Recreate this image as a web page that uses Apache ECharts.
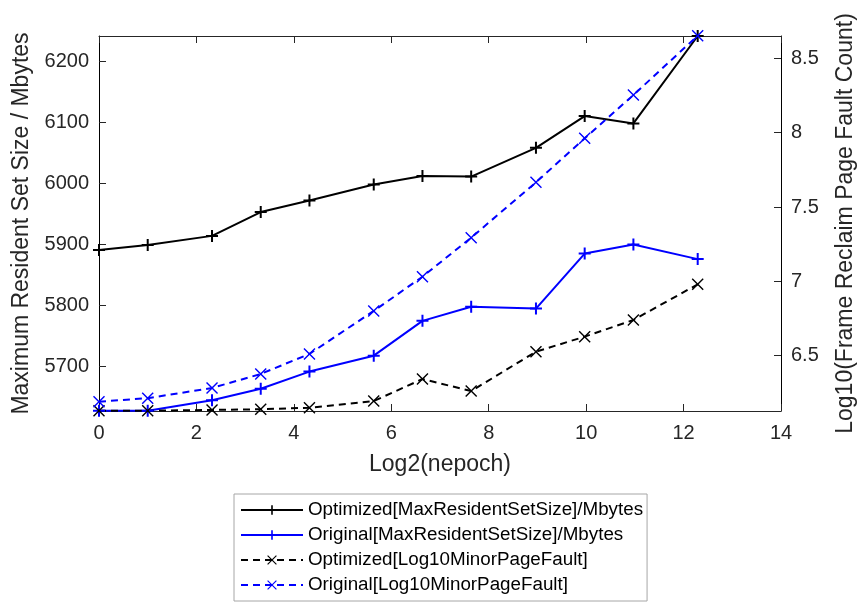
<!DOCTYPE html>
<html>
<head>
<meta charset="utf-8">
<script src="https://cdn.jsdelivr.net/npm/echarts@6/dist/echarts.min.js"></script>
<style>
html, body { margin: 0; padding: 0; background: #fff; }
#chart { width: 865px; height: 604px; }
</style>
</head>
<body>
<div id="chart"></div>
<script>
// log2(nepoch) positions
var xLog2 = [0, 1, 2.32, 3.32, 4.32, 5.64, 6.64, 7.64, 8.97, 9.97, 10.97, 12.29];

// left axis, Mbytes
var optMaxRss  = [5891, 5899, 5914, 5953, 5972, 5998, 6012, 6011, 6058, 6110, 6098, 6241];
var origMaxRss = [5628, 5628, 5645, 5664, 5692, 5718, 5775, 5798, 5795, 5885, 5900, 5876];

// right axis, log10 fault count
var optLog10Fault  = [6.130, 6.130, 6.135, 6.140, 6.150, 6.195, 6.343, 6.262, 6.527, 6.628, 6.740, 6.980];
var origLog10Fault = [6.191, 6.214, 6.283, 6.377, 6.512, 6.801, 7.031, 7.294, 7.666, 7.962, 8.253, 8.652];

var leftTicks  = [5700, 5800, 5900, 6000, 6100, 6200];
var rightTicks = [6.5, 7, 7.5, 8, 8.5];

var seriesNames = [
	'Optimized[MaxResidentSetSize]/Mbytes',
	'Original[MaxResidentSetSize]/Mbytes',
	'Optimized[Log10MinorPageFault]',
	'Original[Log10MinorPageFault]'
];

var FONT = 'Liberation Sans, Arial, sans-serif';
var PLUS = 'path://M-1,-6L1,-6L1,-1L6,-1L6,1L1,1L1,6L-1,6L-1,1L-6,1L-6,-1L-1,-1Z';
var CROSS = 'path://M-6,-5L-5,-6L0,-1L5,-6L6,-5L1,0L6,5L5,6L0,1L-5,6L-6,5L-1,0Z';

function pairs(xs, ys) {
	var out = [];
	for (var i = 0; i < xs.length; i++) {
		out.push([xs[i], ys[i]]);
	}
	return out;
}

function makeSeries(name, data, yIdx, color, dashed, symbol) {
	return {
		name: name,
		type: 'line',
		yAxisIndex: yIdx,
		data: data,
		symbol: symbol,
		symbolSize: 12,
		showAllSymbol: true,
		clip: false,
		lineStyle: { color: color, width: 2, type: dashed ? [7, 5] : 'solid' },
		itemStyle: { color: color },
		emphasis: { disabled: true }
	};
}

var chart = echarts.init(document.getElementById('chart'));

var nameText = { color: '#262626', fontSize: 23, fontFamily: FONT };

var option = {
	animation: false,
	backgroundColor: '#fff',
	grid: { left: 99, right: 77, top: 36, bottom: 193 },
	legend: {
		orient: 'vertical',
		left: 234,
		top: 494,
		padding: [6, 4, 6, 6],
		itemWidth: 62,
		itemHeight: 12,
		itemGap: 5,
		borderColor: '#a6a6a6',
		borderWidth: 1,
		textStyle: { color: '#000', fontSize: 18.8, lineHeight: 20, fontFamily: FONT },
		data: seriesNames
	},
	xAxis: [{
		type: 'value',
		position: 'bottom',
		min: 0, max: 14, interval: 2,
		name: 'Log2(nepoch)',
		nameLocation: 'middle',
		nameGap: 42,
		nameTextStyle: nameText,
		axisLine: { onZero: false, lineStyle: { color: '#262626', width: 1 } },
		axisTick: { inside: true, length: 7, lineStyle: { color: '#262626' } },
		axisLabel: { margin: 12, color: '#262626', fontSize: 20, fontFamily: FONT },
		splitLine: { show: false }
	}, {
		type: 'value',
		position: 'top',
		min: 0, max: 14, interval: 2,
		axisLine: { onZero: false, lineStyle: { color: '#262626', width: 1 } },
		axisTick: { inside: true, length: 7, lineStyle: { color: '#262626' } },
		axisLabel: { show: false },
		splitLine: { show: false }
	}],
	yAxis: [{
		type: 'value',
		position: 'left',
		min: 5627.5, max: 6241,
		name: 'Maximum Resident Set Size / Mbytes',
		nameLocation: 'middle',
		nameGap: 57,
		nameTextStyle: nameText,
		axisLine: { show: true, onZero: false, lineStyle: { color: '#000', width: 1 } },
		axisTick: { show: true, inside: true, length: 7, customValues: leftTicks, lineStyle: { color: '#262626' } },
		axisLabel: {
			margin: 10, customValues: leftTicks, color: '#262626', fontSize: 20, fontFamily: FONT,
			formatter: function (v) { return String(v); }
		},
		minorTick: { show: false },
		splitLine: { show: false }
	}, {
		type: 'value',
		position: 'right',
		min: 6.128, max: 8.65,
		name: 'Log10(Frame Reclaim Page Fault Count)',
		nameLocation: 'middle',
		nameGap: 53,
		nameTextStyle: nameText,
		axisLine: { show: true, onZero: false, lineStyle: { color: '#000', width: 1 } },
		axisTick: { show: true, inside: true, length: 7, customValues: rightTicks, lineStyle: { color: '#262626' } },
		axisLabel: { margin: 10, customValues: rightTicks, color: '#262626', fontSize: 20, fontFamily: FONT },
		minorTick: { show: false },
		splitLine: { show: false }
	}],
	series: [
		makeSeries(seriesNames[0], pairs(xLog2, optMaxRss), 0, '#000', false, PLUS),
		makeSeries(seriesNames[1], pairs(xLog2, origMaxRss), 0, '#0000ff', false, PLUS),
		makeSeries(seriesNames[2], pairs(xLog2, optLog10Fault), 1, '#000', true, CROSS),
		makeSeries(seriesNames[3], pairs(xLog2, origLog10Fault), 1, '#0000ff', true, CROSS)
	]
};

chart.setOption(option);
</script>
</body>
</html>
